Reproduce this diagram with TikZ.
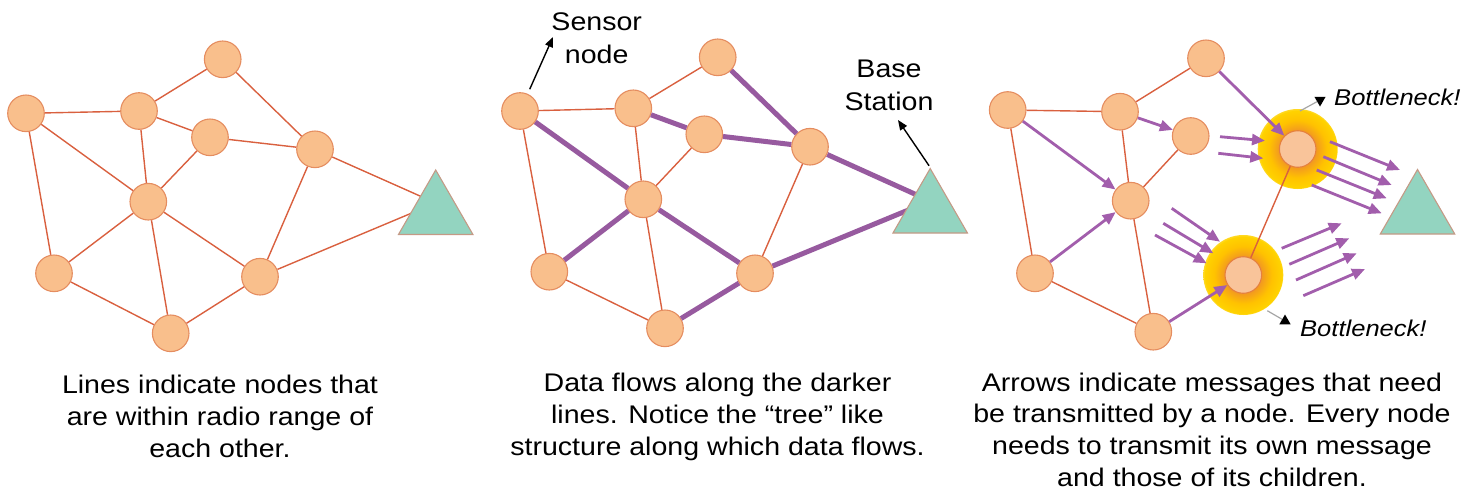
\documentclass[tikz,border=0pt]{standalone}
\usepackage{fontspec}
\setmainfont{Liberation Sans}[FakeStretch=1.12]
\usetikzlibrary{shapes.geometric,arrows.meta,calc}
\pgfdeclarelayer{bg}
\pgfdeclarelayer{glowlayer}
\pgfsetlayers{glowlayer,bg,main}
\definecolor{nodefill}{HTML}{F9BF8C}
\definecolor{nodeline}{HTML}{E58D60}
\definecolor{edgecol}{HTML}{D9603F}
\definecolor{purp}{HTML}{975A9F}
\definecolor{parr}{HTML}{A25EAC}
\definecolor{trifill}{HTML}{93D4C0}
\definecolor{triline}{HTML}{C49A86}
\definecolor{glowin}{HTML}{F39C1E}
\definecolor{glowmid}{HTML}{FFC200}
\definecolor{glowout}{HTML}{FFD200}
\definecolor{bnfill}{HTML}{F9C49A}
\definecolor{bnline}{HTML}{E5803F}
\pgfdeclareradialshading{glowshade}{\pgfpoint{0bp}{0bp}}{color(0bp)=(glowin); color(12bp)=(glowin); color(18bp)=(glowmid); color(24bp)=(glowout); color(25bp)=(glowout!85!white); color(50bp)=(glowout!85!white)}
\tikzset{
  sn/.style={circle, draw=nodeline, fill=nodefill, line width=1.1pt, minimum size=36.6pt, inner sep=0pt},
  bn/.style={circle, draw=bnline, fill=bnfill, line width=1.1pt, minimum size=36.6pt, inner sep=0pt},
  bs/.style={regular polygon, regular polygon sides=3, draw=triline, fill=trifill, line width=1.1pt, minimum size=86pt, inner sep=0pt},
  radio/.style={draw=edgecol, line width=1.4pt},
  tree/.style={draw=purp, line width=5pt},
  msg/.style={draw=parr, line width=2.8pt, -{Triangle[length=13pt,width=11pt]}},
  pointer/.style={draw=black, line width=1.4pt, -{Triangle[length=10pt,width=8pt]}},
  glowdisc/.style={circle, minimum size=80pt, inner sep=0pt, shade, shading=glowshade},
  caption/.style={align=center, anchor=base, inner sep=0pt},
  label2/.style={align=center, anchor=base, inner sep=0pt, font=\fontsize{25.5}{33}\selectfont},
  bneck/.style={font=\fontsize{22.8}{27}\selectfont\itshape, anchor=base west, inner sep=0pt},
  tipmark/.style={regular polygon, regular polygon sides=3, fill=black, minimum size=13pt, inner sep=0pt},
  greyline/.style={draw=gray!70, line width=1.2pt}
}
\begin{document}
\begin{tikzpicture}[x=1pt, y=-1pt, font=\fontsize{25.5}{31.8}\selectfont]
\useasboundingbox (0,0) rectangle (1472,491);

% ---------------- Panel 1 ----------------
\node[sn] (p1A) at (222.7,59.3) {};
\node[sn] (p1B) at (26,113.3) {};
\node[sn] (p1C) at (139,111) {};
\node[sn] (p1D) at (210,137.3) {};
\node[sn] (p1E) at (315,149.3) {};
\node[sn] (p1F) at (148.3,201.7) {};
\node[sn] (p1G) at (54,273.3) {};
\node[sn] (p1H) at (260,276.7) {};
\node[sn] (p1I) at (170.7,333.3) {};
\node[bs] (p1T) at (435.7,213) {};
\coordinate (p1Ta) at (435.7,203);
\draw[radio] (p1A) -- (p1C);
\draw[radio] (p1A) -- (p1E);
\draw[radio] (p1B) -- (p1C);
\draw[radio] (p1B) -- (p1F);
\draw[radio] (p1B) -- (p1G);
\draw[radio] (p1C) -- (p1D);
\draw[radio] (p1C) -- (p1F);
\draw[radio] (p1D) -- (p1E);
\draw[radio] (p1D) -- (p1F);
\draw[radio] (p1E) -- (p1H);
\draw[radio] (p1F) -- (p1G);
\draw[radio] (p1F) -- (p1I);
\draw[radio] (p1F) -- (p1H);
\draw[radio] (p1G) -- (p1I);
\draw[radio] (p1I) -- (p1H);
\begin{pgfonlayer}{bg}
\draw[radio] (p1E) -- (p1Ta);
\draw[radio] (p1H) -- (p1Ta);
\end{pgfonlayer}
\node[caption] (cap1) at (220,457.5) {Lines indicate nodes that\\are within radio range of\\each other.};

% ---------------- Panel 2 ----------------
\node[sn] (p2A) at (717.7,57.3) {};
\node[sn] (p2B) at (520,111) {};
\node[sn] (p2C) at (633.3,108.3) {};
\node[sn] (p2D) at (704.3,134.3) {};
\node[sn] (p2E) at (810,146.7) {};
\node[sn] (p2F) at (643.3,199.3) {};
\node[sn] (p2G) at (549.3,271.7) {};
\node[sn] (p2H) at (755,273.3) {};
\node[sn] (p2I) at (665,328.3) {};
\node[bs] (p2T) at (930.2,211.5) {};
\coordinate (p2Ta) at (930.2,201);
\draw[radio] (p2A) -- (p2C);
\draw[radio] (p2B) -- (p2C);
\draw[radio] (p2B) -- (p2G);
\draw[radio] (p2C) -- (p2F);
\draw[radio] (p2D) -- (p2F);
\draw[radio] (p2E) -- (p2H);
\draw[radio] (p2G) -- (p2I);
\draw[radio] (p2F) -- (p2I);
\draw[tree] (p2B) -- (p2F);
\draw[tree] (p2F) -- (p2G);
\draw[tree] (p2F) -- (p2H);
\draw[tree] (p2H) -- (p2I);
\draw[tree] (p2A) -- (p2E);
\draw[tree] (p2C) -- (p2D);
\draw[tree] (p2D) -- (p2E);
\begin{pgfonlayer}{bg}
\draw[tree] (p2E) -- (p2Ta);
\draw[tree] (p2H) -- (p2Ta);
\end{pgfonlayer}
\node[label2] (sensorlbl) at (596.7,63.3) {Sensor\\node};
\coordinate (sensortip) at (553,37);
\draw[pointer, shorten <=5pt] (p2B) -- (sensortip);
\node[label2] (baselbl) at (889,110) {Base\\Station};
\coordinate (basetip) at (898,120);
\draw[pointer, shorten <=2pt] (p2T.corner 1) -- (basetip);
\node[caption] (cap2) at (717.5,455.5) {Data flows along the darker\\lines. Notice the “tree” like\\structure along which data flows.};

% ---------------- Panel 3 ----------------
\node[glowdisc] (p3Eg) at (1297.7,149) {};
\node[glowdisc] (p3Hg) at (1243.3,275) {};
\node[sn] (p3A) at (1206,58.3) {};
\node[sn] (p3B) at (1007.7,110) {};
\node[sn] (p3C) at (1120,111.7) {};
\node[sn] (p3D) at (1190.7,136) {};
\node[bn] (p3E) at (1297.7,149) {};
\node[sn] (p3F) at (1130.7,200.7) {};
\node[sn] (p3G) at (1035,273.3) {};
\node[bn] (p3H) at (1243.3,275) {};
\node[sn] (p3I) at (1153.3,331.7) {};
\node[bs] (p3T) at (1417.5,212.5) {};
\draw[radio] (p3A) -- (p3C);
\draw[radio] (p3B) -- (p3C);
\draw[radio] (p3B) -- (p3G);
\draw[radio] (p3C) -- (p3F);
\draw[radio] (p3D) -- (p3F);
\draw[radio] (p3F) -- (p3I);
\draw[radio] (p3G) -- (p3I);
\draw[radio] (p3E) -- (p3H);
\draw[msg] (p3A) -- (p3E);
\draw[msg] (p3C) -- (p3D);
\draw[msg] (p3B) -- (p3F);
\draw[msg] (p3G) -- (p3F);
\draw[msg] (p3I) -- (p3H);
\foreach \i/\sx/\sy/\ex/\ey in {
  1/1220/136.7/1265/140.7, 2/1218.3/153.3/1263.3/158.3,
  3/1330/141.7/1400/170, 4/1323.3/156.7/1391.7/185, 5/1316.7/170/1386.7/198.3, 6/1311.7/185/1381.7/213.3,
  7/1171.7/208.3/1220/241.7, 8/1163.3/223.3/1213.3/253.3, 9/1155/235/1206.7/263.3,
  10/1281.7/248.3/1341.7/223.3, 11/1289.3/264.3/1349.3/238.3, 12/1296/280/1356.7/253.3, 13/1303.3/295.7/1365/269}{
  \coordinate (ms\i) at (\sx,\sy);
  \coordinate (me\i) at (\ex,\ey);
  \draw[msg] (ms\i) -- (me\i);
}
\node[tipmark, shape border rotate=180] (bmark1) at (1320,100) {};
\node[bneck] (bneck1) at (1334,105) {Bottleneck!};
\coordinate (bl1) at (1300,111);
\draw[greyline] (bl1) -- (bmark1);
\node[tipmark] (bmark2) at (1285,321) {};
\node[bneck] (bneck2) at (1300,336.7) {Bottleneck!};
\coordinate (bl2) at (1267.3,310.7);
\draw[greyline] (bl2) -- (bmark2);
\node[caption] (cap3) at (1212,486.5) {Arrows indicate messages that need\\be transmitted by a node. Every node\\needs to transmit its own message\\and those of its children.};
\end{tikzpicture}
\end{document}
